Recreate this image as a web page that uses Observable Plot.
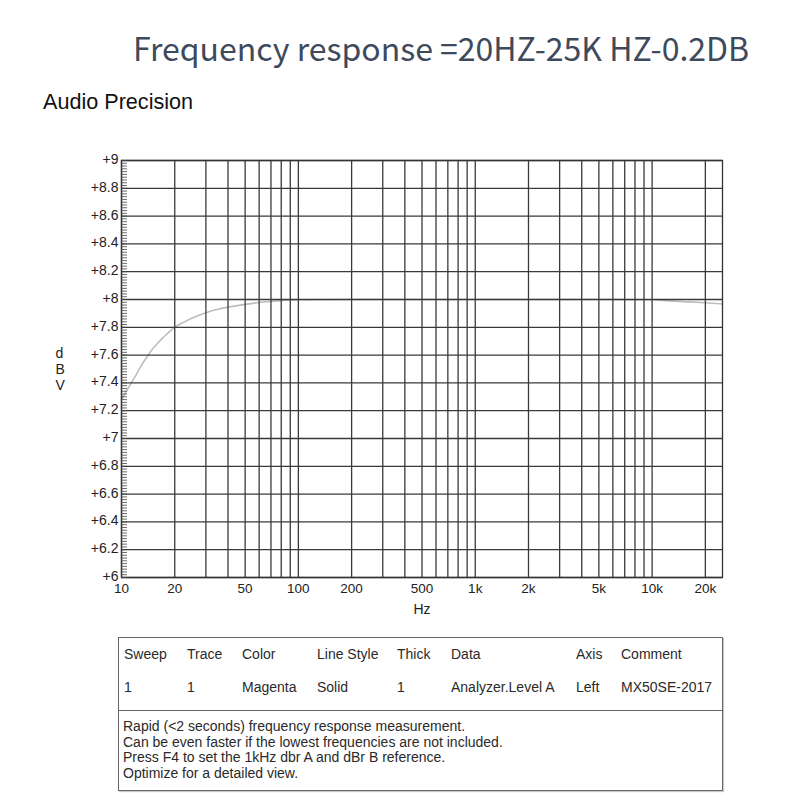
<!DOCTYPE html>
<html>
<head>
<meta charset="utf-8">
<script src="https://cdn.jsdelivr.net/npm/d3@7"></script>
<script src="https://cdn.jsdelivr.net/npm/@observablehq/plot@0.6"></script>
<style>
  html, body { margin: 0; padding: 0; background: #fff; }
  #page { position: relative; width: 800px; height: 800px; overflow: hidden; font-family: "Liberation Sans", Arial, sans-serif; }
  #title { position: absolute; left: 133px; top: 27px; font-family: "Noto Sans CJK SC", "Noto Sans", sans-serif; font-size: 32px; line-height: 40px; color: #3e4a5c; white-space: nowrap; }
  #brand { position: absolute; left: 43px; top: 89px; font-size: 21.6px; line-height: 26px; color: #111; white-space: nowrap; }
  #chart { position: absolute; left: 0; top: 130px; }
  #tbl { position: absolute; left: 118px; top: 637px; width: 603px; height: 152px; border: 1px solid #666; box-shadow: 1px 1px 1px #ccc; color: #2a2a2a; font-size: 14px; }
  #tbl .c { position: absolute; line-height: 16px; white-space: nowrap; }
  #tbl .div { position: absolute; left: 0; right: 0; top: 72px; border-top: 1px solid #666; }
  #tbl .notes { position: absolute; left: 4px; top: 81px; line-height: 15.7px; white-space: nowrap; }
</style>
</head>
<body>
<div id="page">
  <div id="title"></div>
  <div id="brand"></div>
  <div id="chart"></div>
  <div id="tbl"></div>
</div>
<script>
// ---- data ----
const titleText = "Frequency response =20HZ-25K HZ-0.2DB";
const brandText = "Audio Precision";

const freqHz = [10, 11, 12, 13, 14, 15, 16, 17, 18, 20, 22, 25, 30, 35, 40, 50, 60, 70, 80, 100, 200, 500, 1000, 2000, 5000, 10000, 12500, 15000, 20000, 25000];
const levelDbv = [7.28, 7.37, 7.45, 7.53, 7.59, 7.645, 7.685, 7.72, 7.75, 7.80, 7.83, 7.865, 7.905, 7.93, 7.945, 7.965, 7.978, 7.986, 7.992, 7.998, 8.0, 8.0, 8.0, 8.0, 8.0, 7.998, 7.99, 7.985, 7.977, 7.968];

const gridFreqs = [10, 20, 30, 40, 50, 60, 70, 80, 90, 100, 200, 300, 400, 500, 600, 700, 800, 900, 1000, 2000, 3000, 4000, 5000, 6000, 7000, 8000, 9000, 10000, 20000];
const xTickValues = [10, 20, 50, 100, 200, 500, 1000, 2000, 5000, 10000, 20000];
const xTickLabels = ["10", "20", "50", "100", "200", "500", "1k", "2k", "5k", "10k", "20k"];
const yTickValues = [6, 6.2, 6.4, 6.6, 6.8, 7, 7.2, 7.4, 7.6, 7.8, 8, 8.2, 8.4, 8.6, 8.8, 9];
const yTickLabels = ["+6", "+6.2", "+6.4", "+6.6", "+6.8", "+7", "+7.2", "+7.4", "+7.6", "+7.8", "+8", "+8.2", "+8.4", "+8.6", "+8.8", "+9"];
const yMinorStep = 0.02;

const tableHeaders = ["Sweep", "Trace", "Color", "Line Style", "Thick", "Data", "Axis", "Comment"];
const tableRow = ["1", "1", "Magenta", "Solid", "1", "Analyzer.Level A", "Left", "MX50SE-2017"];
const tableNotes = [
  "Rapid (<2 seconds) frequency response measurement.",
  "Can be even faster if the lowest frequencies are not included.",
  "Press F4 to set the 1kHz dbr A and dBr B reference.",
  "Optimize for a detailed view."
];

// ---- build ----
document.getElementById("title").textContent = titleText;
document.getElementById("brand").textContent = brandText;

const curve = freqHz.map((f, i) => ({f, v: levelDbv[i]}));
const minorTicks = d3.range(0, Math.round(3 / yMinorStep) + 1).map(i => 6 + i * yMinorStep);
const xTicks = xTickValues.map((v, i) => ({v, label: xTickLabels[i]}));
const yLab = new Map(yTickValues.map((v, i) => [v, yTickLabels[i]]));

const chart = Plot.plot({
  width: 800,
  height: 500,
  marginLeft: 121,
  marginRight: 78,
  marginTop: 30,
  marginBottom: 53,
  x: {type: "log", domain: [10, 25000], label: null, axis: null},
  y: {domain: [6, 9], label: null},
  style: {fontFamily: "'Liberation Sans', Arial, sans-serif", fontSize: "14px", color: "#222", background: "white"},
  marks: [
    Plot.line(curve, {x: "f", y: "v", stroke: "#bdbdbd", strokeWidth: 1.6, curve: "monotone-x"}),
    Plot.ruleX(gridFreqs, {stroke: "#3a3a3a", strokeWidth: 1.3}),
    Plot.ruleY(yTickValues, {stroke: "#3a3a3a", strokeWidth: 1.3}),
    Plot.frame({stroke: "#333", strokeWidth: 1.3}),
    Plot.axisY({ticks: minorTicks, tickSize: 6, dx: 6, tickFormat: () => "", stroke: "#444", strokeWidth: 0.8, label: null}),
    Plot.axisY({ticks: yTickValues, tickSize: 0, tickPadding: 3, dy: -1, tickFormat: d => yLab.get(d), label: null}),
    Plot.text(xTicks, {x: "v", text: "label", frameAnchor: "bottom", dy: 15, fontSize: 13.5}),
    Plot.text(["Hz"], {frameAnchor: "bottom", dy: 36, fontSize: 14}),
    Plot.text(["d\nB\nV"], {frameAnchor: "left", dx: -66, lineHeight: 1.15, fontSize: 14})
  ]
});
document.getElementById("chart").appendChild(chart);

// table
const tbl = document.getElementById("tbl");
const colLeft = [5, 68, 123, 198, 278, 332, 457, 502];
tableHeaders.forEach((h, i) => {
  const d = document.createElement("div");
  d.className = "c"; d.style.left = colLeft[i] + "px"; d.style.top = "8px"; d.textContent = h;
  tbl.appendChild(d);
});
tableRow.forEach((h, i) => {
  const d = document.createElement("div");
  d.className = "c"; d.style.left = colLeft[i] + "px"; d.style.top = "41px"; d.textContent = h;
  tbl.appendChild(d);
});
const dv = document.createElement("div"); dv.className = "div"; tbl.appendChild(dv);
const notes = document.createElement("div"); notes.className = "notes";
tableNotes.forEach(t => { const l = document.createElement("div"); l.textContent = t; notes.appendChild(l); });
tbl.appendChild(notes);
</script>
</body>
</html>
